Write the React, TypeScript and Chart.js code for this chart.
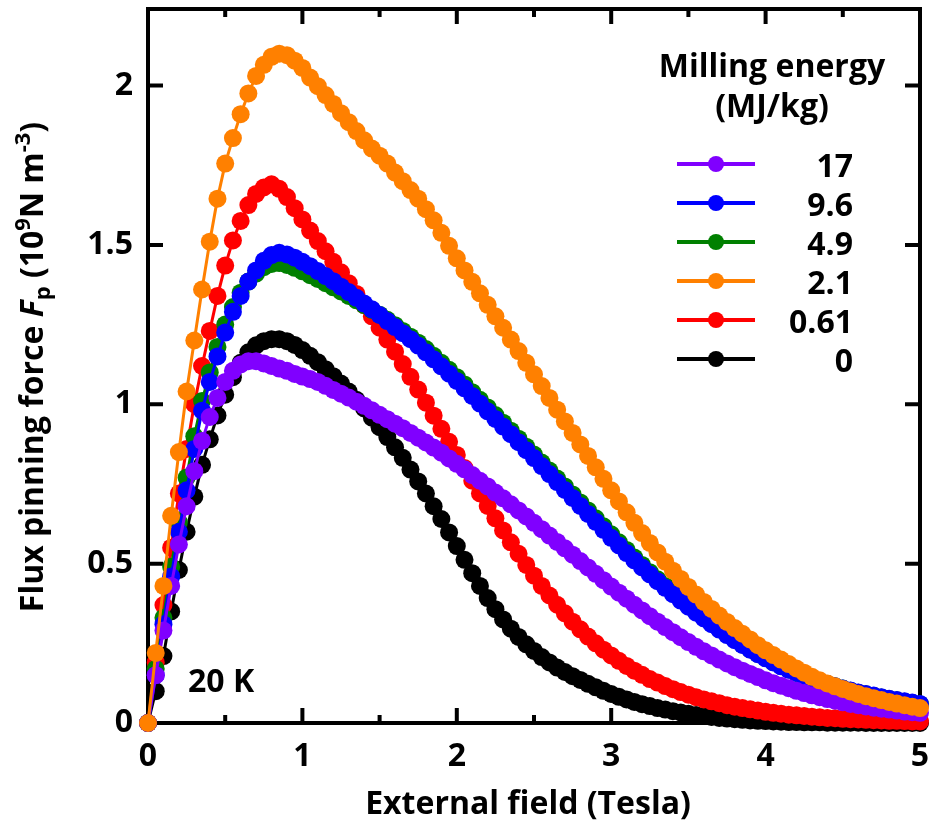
import { useEffect, useRef } from "react";
import { Chart, registerables } from "chart.js";

Chart.register(...registerables);

// External field (Tesla)
const fieldT = [
  0, 0.05, 0.1, 0.15, 0.2, 0.25, 0.3, 0.35, 0.4, 0.45,
  0.5, 0.55, 0.6, 0.65, 0.7, 0.75, 0.8, 0.85, 0.9, 0.95,
  1.0, 1.05, 1.1, 1.15, 1.2, 1.25, 1.3, 1.35, 1.4, 1.45,
  1.5, 1.55, 1.6, 1.65, 1.7, 1.75, 1.8, 1.85, 1.9, 1.95,
  2.0, 2.05, 2.1, 2.15, 2.2, 2.25, 2.3, 2.35, 2.4, 2.45,
  2.5, 2.55, 2.6, 2.65, 2.7, 2.75, 2.8, 2.85, 2.9, 2.95,
  3.0, 3.05, 3.1, 3.15, 3.2, 3.25, 3.3, 3.35, 3.4, 3.45,
  3.5, 3.55, 3.6, 3.65, 3.7, 3.75, 3.8, 3.85, 3.9, 3.95,
  4.0, 4.05, 4.1, 4.15, 4.2, 4.25, 4.3, 4.35, 4.4, 4.45,
  4.5, 4.55, 4.6, 4.65, 4.7, 4.75, 4.8, 4.85, 4.9, 4.95,
  5.0,
];

// Flux pinning force (10^9 N m^-3), milling energy 17 MJ/kg
const fp17 = [
  0, 0.15, 0.29, 0.43, 0.56, 0.68, 0.79, 0.885, 0.96, 1.02,
  1.07, 1.105, 1.125, 1.135, 1.135, 1.128, 1.12, 1.112, 1.105, 1.095,
  1.087, 1.079, 1.07, 1.058, 1.045, 1.033, 1.021, 1.008, 0.995, 0.981,
  0.967, 0.953, 0.939, 0.925, 0.91, 0.895, 0.88, 0.864, 0.848, 0.83,
  0.813, 0.796, 0.778, 0.76, 0.742, 0.723, 0.705, 0.686, 0.667, 0.648,
  0.628, 0.608, 0.588, 0.568, 0.548, 0.528, 0.508, 0.488, 0.468, 0.448,
  0.428, 0.409, 0.39, 0.371, 0.353, 0.335, 0.318, 0.301, 0.285, 0.269,
  0.254, 0.239, 0.225, 0.212, 0.199, 0.187, 0.175, 0.164, 0.154, 0.144,
  0.134, 0.125, 0.117, 0.109, 0.101, 0.094, 0.087, 0.081, 0.075, 0.07,
  0.065, 0.06, 0.056, 0.052, 0.048, 0.045, 0.042, 0.039, 0.036, 0.034,
  0.032,
];

// 9.6 MJ/kg
const fp9_6 = [
  0, 0.15, 0.31, 0.46, 0.6, 0.73, 0.86, 0.98, 1.07, 1.15,
  1.225, 1.29, 1.34, 1.385, 1.42, 1.45, 1.468, 1.475, 1.47, 1.46,
  1.447, 1.433, 1.418, 1.402, 1.386, 1.369, 1.352, 1.334, 1.316, 1.298,
  1.28, 1.261, 1.242, 1.223, 1.204, 1.184, 1.163, 1.141, 1.119, 1.096,
  1.073, 1.05, 1.026, 1.002, 0.978, 0.954, 0.93, 0.906, 0.881, 0.856,
  0.831, 0.806, 0.781, 0.756, 0.731, 0.706, 0.681, 0.656, 0.631, 0.606,
  0.581, 0.557, 0.533, 0.51, 0.488, 0.466, 0.445, 0.424, 0.404, 0.384,
  0.365, 0.346, 0.328, 0.31, 0.293, 0.276, 0.26, 0.245, 0.23, 0.216,
  0.203, 0.19, 0.178, 0.167, 0.157, 0.147, 0.138, 0.13, 0.122, 0.115,
  0.108, 0.102, 0.096, 0.091, 0.086, 0.081, 0.076, 0.072, 0.068, 0.064,
  0.06,
];

// 4.9 MJ/kg
const fp4_9 = [
  0, 0.17, 0.33, 0.49, 0.63, 0.77, 0.9, 1.01, 1.1, 1.18,
  1.25, 1.305, 1.35, 1.385, 1.41, 1.43, 1.44, 1.443, 1.437, 1.428,
  1.417, 1.405, 1.393, 1.38, 1.367, 1.354, 1.34, 1.326, 1.311, 1.296,
  1.281, 1.265, 1.248, 1.23, 1.212, 1.193, 1.173, 1.152, 1.13, 1.108,
  1.085, 1.062, 1.038, 1.014, 0.99, 0.966, 0.942, 0.917, 0.892, 0.867,
  0.842, 0.817, 0.792, 0.767, 0.742, 0.717, 0.692, 0.667, 0.642, 0.617,
  0.592, 0.567, 0.543, 0.519, 0.496, 0.473, 0.451, 0.43, 0.409, 0.389,
  0.369, 0.35, 0.331, 0.313, 0.295, 0.278, 0.262, 0.246, 0.231, 0.217,
  0.204, 0.191, 0.179, 0.168, 0.157, 0.147, 0.138, 0.13, 0.122, 0.115,
  0.108, 0.101, 0.095, 0.09, 0.085, 0.08, 0.075, 0.071, 0.067, 0.063,
  0.059,
];

// 2.1 MJ/kg
const fp2_1 = [
  0, 0.22, 0.43, 0.65, 0.85, 1.04, 1.2, 1.36, 1.51, 1.645,
  1.755, 1.835, 1.91, 1.975, 2.03, 2.065, 2.09, 2.1, 2.095, 2.078,
  2.055, 2.025, 1.998, 1.97, 1.942, 1.913, 1.885, 1.857, 1.828, 1.802,
  1.78, 1.755, 1.727, 1.7, 1.672, 1.645, 1.612, 1.577, 1.538, 1.497,
  1.458, 1.42, 1.384, 1.348, 1.312, 1.276, 1.24, 1.203, 1.167, 1.13,
  1.094, 1.057, 1.02, 0.983, 0.946, 0.91, 0.874, 0.838, 0.802, 0.766,
  0.73, 0.695, 0.661, 0.628, 0.596, 0.565, 0.535, 0.506, 0.478, 0.452,
  0.427, 0.403, 0.38, 0.358, 0.337, 0.317, 0.298, 0.28, 0.262, 0.244,
  0.228, 0.213, 0.199, 0.185, 0.171, 0.158, 0.145, 0.134, 0.124, 0.115,
  0.107, 0.099, 0.091, 0.084, 0.078, 0.072, 0.066, 0.061, 0.056, 0.051,
  0.047,
];

// 0.61 MJ/kg
const fp0_61 = [
  0, 0.19, 0.37, 0.55, 0.72, 0.86, 1.0, 1.12, 1.23, 1.34,
  1.435, 1.514, 1.575, 1.625, 1.66, 1.68, 1.69, 1.676, 1.65, 1.615,
  1.58, 1.545, 1.512, 1.48, 1.447, 1.414, 1.38, 1.346, 1.311, 1.276,
  1.24, 1.203, 1.165, 1.126, 1.086, 1.046, 1.005, 0.964, 0.923, 0.882,
  0.841, 0.8, 0.76, 0.72, 0.681, 0.642, 0.604, 0.567, 0.531, 0.496,
  0.462, 0.43, 0.4, 0.371, 0.344, 0.318, 0.294, 0.271, 0.25, 0.23,
  0.212, 0.195, 0.179, 0.164, 0.151, 0.138, 0.127, 0.116, 0.106, 0.097,
  0.089, 0.081, 0.074, 0.068, 0.062, 0.056, 0.051, 0.047, 0.043, 0.039,
  0.035, 0.032, 0.029, 0.026, 0.024, 0.022, 0.02, 0.018, 0.016, 0.015,
  0.013, 0.012, 0.011, 0.01, 0.009, 0.008, 0.007, 0.007, 0.006, 0.005,
  0.005,
];

// 0 MJ/kg
const fp0 = [
  0, 0.1, 0.21, 0.35, 0.48, 0.6, 0.71, 0.81, 0.89, 0.965,
  1.03, 1.085, 1.13, 1.163, 1.185, 1.198, 1.204, 1.204, 1.198, 1.186,
  1.17, 1.152, 1.132, 1.11, 1.088, 1.065, 1.04, 1.014, 0.987, 0.958,
  0.928, 0.897, 0.865, 0.832, 0.795, 0.758, 0.72, 0.68, 0.64, 0.598,
  0.555, 0.512, 0.47, 0.43, 0.392, 0.357, 0.325, 0.296, 0.27, 0.247,
  0.226, 0.207, 0.19, 0.174, 0.16, 0.147, 0.135, 0.123, 0.112, 0.101,
  0.091, 0.082, 0.074, 0.066, 0.059, 0.053, 0.047, 0.042, 0.037, 0.033,
  0.029, 0.025, 0.022, 0.019, 0.016, 0.014, 0.012, 0.01, 0.008, 0.007,
  0.006, 0.005, 0.004, 0.003, 0.003, 0.002, 0.002, 0.002, 0.001, 0.001,
  0.001, 0.001, 0.001, 0, 0, 0, 0, 0, 0, 0,
  0,
];

const legendLabels = ["17", "9.6", "4.9", "2.1", "0.61", "0"];
const legendColors = ["#8000ff", "#0000ff", "#008000", "#ff8000", "#ff0000", "#000000"];
const legendSeries = [fp17, fp9_6, fp4_9, fp2_1, fp0_61, fp0];
// drawing order: first drawn on top
const drawOrder = [3, 0, 1, 2, 4, 5];

const xTicks = [0, 1, 2, 3, 4, 5];
const xTickLabels = ["0", "1", "2", "3", "4", "5"];
const xMinorTicks = [0.5, 1.5, 2.5, 3.5, 4.5];
const yTicks = [0, 0.5, 1, 1.5, 2];
const yTickLabels = ["0", "0.5", "1", "1.5", "2"];

const FONT = "'Open Sans', 'DejaVu Sans', sans-serif";

const decorPlugin = {
  id: "decor",
  beforeDatasetsDraw(chart: any) {
    const { ctx, chartArea, scales } = chart;
    const { left, right, top, bottom } = chartArea;
    const x = scales.x;
    const y = scales.y;
    ctx.save();
    ctx.strokeStyle = "#000";
    ctx.lineWidth = 4;
    ctx.lineCap = "butt";
    ctx.beginPath();
    ctx.rect(left, top, right - left, bottom - top);
    ctx.stroke();
    const major = 15;
    const minor = 8;
    ctx.beginPath();
    xTicks.forEach((v) => {
      const px = x.getPixelForValue(v);
      ctx.moveTo(px, bottom);
      ctx.lineTo(px, bottom - major);
      ctx.moveTo(px, top);
      ctx.lineTo(px, top + major);
    });
    xMinorTicks.forEach((v) => {
      const px = x.getPixelForValue(v);
      ctx.moveTo(px, bottom);
      ctx.lineTo(px, bottom - minor);
      ctx.moveTo(px, top);
      ctx.lineTo(px, top + minor);
    });
    yTicks.forEach((v) => {
      const py = y.getPixelForValue(v);
      ctx.moveTo(left, py);
      ctx.lineTo(left + major, py);
      ctx.moveTo(right, py);
      ctx.lineTo(right - major, py);
    });
    ctx.stroke();
    ctx.restore();
  },
  afterDraw(chart: any) {
    const { ctx } = chart;
    ctx.save();
    ctx.fillStyle = "#000";
    ctx.textBaseline = "alphabetic";

    // x axis title
    ctx.font = `bold 32px ${FONT}`;
    ctx.textAlign = "center";
    ctx.fillText("External field (Tesla)", 528, 814);

    // y axis title (rich text, rotated)
    const segs: { t: string; f: string; dy: number }[] = [
      { t: "Flux pinning force ", f: `bold 32px ${FONT}`, dy: 0 },
      { t: "F", f: `italic bold 32px ${FONT}`, dy: 0 },
      { t: "p", f: `bold 22px ${FONT}`, dy: 7 },
      { t: " (10", f: `bold 32px ${FONT}`, dy: 0 },
      { t: "9", f: `bold 22px ${FONT}`, dy: -13 },
      { t: "N m", f: `bold 32px ${FONT}`, dy: 0 },
      { t: "-3", f: `bold 22px ${FONT}`, dy: -13 },
      { t: ")", f: `bold 32px ${FONT}`, dy: 0 },
    ];
    let total = 0;
    const widths = segs.map((s) => {
      ctx.font = s.f;
      const w = ctx.measureText(s.t).width;
      total += w;
      return w;
    });
    ctx.save();
    ctx.translate(43, 367);
    ctx.rotate(-Math.PI / 2);
    ctx.textAlign = "left";
    let cx = -total / 2;
    segs.forEach((s, i) => {
      ctx.font = s.f;
      ctx.fillText(s.t, cx, s.dy);
      cx += widths[i];
    });
    ctx.restore();

    // annotation
    ctx.font = `bold 32px ${FONT}`;
    ctx.textAlign = "left";
    ctx.fillText("20 K", 188, 692);

    // legend
    ctx.textAlign = "center";
    ctx.fillText("Milling energy", 772, 77);
    ctx.fillText("(MJ/kg)", 772, 117);
    legendLabels.forEach((lab, i) => {
      const ry = 164 + i * 39;
      ctx.strokeStyle = legendColors[i];
      ctx.lineWidth = 4;
      ctx.beginPath();
      ctx.moveTo(677, ry);
      ctx.lineTo(755, ry);
      ctx.stroke();
      ctx.fillStyle = legendColors[i];
      ctx.beginPath();
      ctx.arc(716, ry, 8, 0, Math.PI * 2);
      ctx.fill();
      ctx.fillStyle = "#000";
      ctx.textAlign = "right";
      ctx.fillText(lab, 853, ry + 12.5);
    });
    ctx.restore();
  },
};

export default function App() {
  const canvasRef = useRef<HTMLCanvasElement | null>(null);

  useEffect(() => {
    const canvas = canvasRef.current;
    if (!canvas) return;
    const datasets = drawOrder.map((i) => ({
      label: legendLabels[i],
      data: fieldT.map((t, k) => ({ x: t, y: legendSeries[i][k] })),
      borderColor: legendColors[i],
      backgroundColor: legendColors[i],
      pointBackgroundColor: legendColors[i],
      pointBorderColor: legendColors[i],
      pointBorderWidth: 0,
      pointRadius: 9,
      borderWidth: 3,
      tension: 0,
      clip: false as any,
    }));
    const chart = new Chart(canvas, {
      type: "line",
      data: { datasets },
      plugins: [decorPlugin],
      options: {
        responsive: false,
        maintainAspectRatio: false,
        devicePixelRatio: 1,
        animation: false,
        layout: { padding: { left: 0, right: 8, top: 9, bottom: 0 } },
        plugins: {
          legend: { display: false },
          tooltip: { enabled: false },
          title: { display: false },
        },
        scales: {
          x: {
            type: "linear",
            position: "bottom",
            min: 0,
            max: 5,
            grid: { display: false, drawTicks: false },
            border: { display: false },
            afterBuildTicks: (s: any) => {
              s.ticks = xTicks.map((v) => ({ value: v }));
            },
            afterFit: (s: any) => {
              s.height = 103;
              s.paddingLeft = 0;
              s.paddingRight = 0;
            },
            ticks: {
              autoSkip: false,
              maxRotation: 0,
              padding: 15,
              color: "#000",
              font: { family: FONT, size: 32, weight: "bold" },
              callback: (v: any) => xTickLabels[xTicks.indexOf(Number(v))] ?? "",
            },
          },
          y: {
            type: "linear",
            position: "left",
            min: 0,
            max: 2.24,
            grid: { display: false, drawTicks: false },
            border: { display: false },
            afterBuildTicks: (s: any) => {
              s.ticks = yTicks.map((v) => ({ value: v }));
            },
            afterFit: (s: any) => {
              s.width = 148;
              s.paddingTop = 0;
              s.paddingBottom = 0;
            },
            ticks: {
              autoSkip: false,
              padding: 15,
              color: "#000",
              font: { family: FONT, size: 32, weight: "bold" },
              callback: (v: any) => yTickLabels[yTicks.indexOf(Number(v))] ?? "",
            },
          },
        },
      },
    });
    return () => chart.destroy();
  }, []);

  return (
    <div style={{ position: "absolute", left: 0, top: 0, width: 929, height: 826, background: "#fff" }}>
      <canvas ref={canvasRef} width={929} height={826} style={{ display: "block" }} />
    </div>
  );
}
